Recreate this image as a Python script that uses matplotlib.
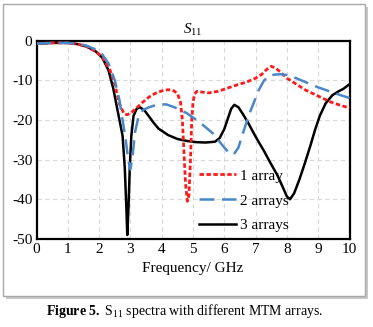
import matplotlib
matplotlib.use("Agg")
import matplotlib.pyplot as plt
from matplotlib.patches import Rectangle

plt.rcParams['font.family'] = ['Liberation Serif', 'DejaVu Serif']
plt.rcParams['mathtext.fontset'] = 'custom'
plt.rcParams['mathtext.rm'] = 'Liberation Serif'
plt.rcParams['mathtext.it'] = 'Liberation Serif:italic'
plt.rcParams['mathtext.bf'] = 'Liberation Serif:bold'

# 1 array
x1 = [0, 0.5, 1.0, 1.3, 1.6, 1.9, 2.1, 2.35, 2.5, 2.65, 2.8, 2.9, 3.05, 3.2, 3.4, 3.6,
      3.8, 4.0, 4.2, 4.35, 4.5, 4.6, 4.66, 4.71, 4.76, 4.82, 4.87, 4.92, 4.96, 5.0, 5.05,
      5.12, 5.3, 5.5, 5.8, 6.1, 6.4, 6.7, 7.0, 7.2, 7.35, 7.5, 7.65, 7.8, 8.0, 8.3, 8.6,
      9.0, 9.4, 9.7, 10]
y1 = [-0.8, -0.6, -0.6, -0.9, -1.5, -2.8, -4.2, -7.5, -11, -16, -18.5, -18.7, -18, -17,
      -15.5, -14.2, -13.3, -12.7, -12.4, -12.5, -13.3, -15.5, -20, -28, -36, -40.5, -39,
      -30, -20, -15.5, -13.5, -12.8, -13, -13.2, -12.8, -12, -11.2, -10.5, -9.5, -8.5,
      -7.3, -6.5, -7, -8, -9.5, -11, -12.5, -14, -15.5, -16.3, -17]

# 2 arrays
x2 = [0, 0.5, 1.0, 1.3, 1.6, 1.9, 2.1, 2.3, 2.5, 2.65, 2.75, 2.85, 2.93, 3.0, 3.07,
      3.15, 3.25, 3.4, 3.6, 3.8, 4.0, 4.15, 4.4, 4.8, 5.2, 5.65, 5.95, 6.15, 6.3, 6.45,
      6.63, 6.8, 6.95, 7.1, 7.26, 7.4, 7.6, 7.8, 8.0, 8.3, 8.6, 9.0, 9.5, 10]
y2 = [-0.8, -0.6, -0.6, -0.8, -1.3, -2.3, -3.5, -5.8, -10, -15, -20, -25, -30, -32.5,
      -29, -23, -19.5, -17.5, -16.8, -16.3, -16.1, -16.1, -16.8, -18.3, -20.5, -23.5,
      -26.5, -28.3, -28.7, -27, -22.5, -18.5, -15.5, -12.5, -10.2, -9.0, -8.6, -8.5,
      -8.7, -9.5, -10.5, -11.8, -13.2, -14.5]

# 3 arrays
x3 = [0, 0.5, 1.0, 1.3, 1.6, 1.9, 2.1, 2.3, 2.45, 2.55, 2.65, 2.75, 2.82, 2.87, 2.9,
      2.94, 2.98, 3.03, 3.1, 3.2, 3.3, 3.45, 3.6, 3.75, 3.9, 4.2, 4.5, 4.8, 5.1, 5.4, 5.7,
      5.85, 6.0, 6.12, 6.22, 6.32, 6.45, 6.6, 6.78, 6.95, 7.1, 7.26, 7.45, 7.7, 7.9, 8.0,
      8.1, 8.23, 8.4, 8.57, 8.75, 8.9, 9.05, 9.24, 9.45, 9.65, 9.8, 10]
y3 = [-0.8, -0.6, -0.6, -0.9, -1.5, -2.8, -4.3, -7.5, -12, -16, -20, -24, -32, -42,
      -49, -42, -32, -24, -19, -17.2, -16.8, -17.6, -19.2, -20.8, -22.2, -23.8, -24.8,
      -25.3, -25.6, -25.7, -25.5, -24.6, -22.3, -19.5, -17.2, -16.2, -16.8, -18.6, -21,
      -23.5, -25.6, -27.7, -30.5, -34, -37.5, -39.3, -40, -38.5, -35, -31, -26.5, -22.5,
      -19, -15.8, -13.8, -12.8, -12.2, -11]

labels = ['1 array', '2 arrays', '3 arrays']
xticks = [0, 1, 2, 3, 4, 5, 6, 7, 8, 9, 10]
yticks = [0, -10, -20, -30, -40, -50]

fig = plt.figure(figsize=(3.73, 3.27), dpi=100)

# framed panel with shadow
shadow = Rectangle((6/373, 1-299/327), 362/373, 292/327, transform=fig.transFigure,
                   facecolor='#c8c8c8', edgecolor='none', zorder=-2)
frame = Rectangle((3/373, 1-296/327), 362/373, 292/327, transform=fig.transFigure,
                  facecolor='white', edgecolor='#a8a8a8', lw=1.0, zorder=-1)
fig.patches.extend([shadow, frame])

ax = fig.add_axes([36.5/373, 1-239/327, (349.5-36.5)/373, (239-40.5)/327])
ax.set_facecolor('white')
ax.plot(x1, y1, color='#ff1a1a', lw=2.0, ls=(0, (1.6, 0.9)), label=labels[0], zorder=3)
ax.plot(x2, y2, color='#4a87c8', lw=1.8, ls=(0, (6, 3)), label=labels[1], zorder=3)
ax.plot(x3, y3, color='black', lw=1.8, label=labels[2], zorder=2)

ax.set_xlim(0, 10)
ax.set_ylim(-50, 0)
ax.set_xticks(xticks)
ax.set_yticks(yticks)
ax.set_yticklabels([str(v) for v in yticks])
ax.tick_params(length=0, labelsize=11, pad=3)
ax.grid(True, ls=(0, (4, 3)), color='#d8d8d8', lw=0.8)
for s in ax.spines.values():
    s.set_linewidth(1.6)
ax.set_title('$S_{11}$', fontsize=11, pad=5)
ax.set_xlabel('Frequency/ GHz', fontsize=11, labelpad=4)

ax.legend(loc='lower left', bbox_to_anchor=(0.475, -0.035), frameon=False, fontsize=11,
          handlelength=2.4, handletextpad=0.3, labelspacing=0.72)

fig.text(0.495, 1-311/327, r'$\mathbf{Figure\ 5.}$ S$_{11}$ spectra with different MTM arrays.',
         ha='center', va='center', fontsize=10)

fig.savefig('out.png', dpi=100)
